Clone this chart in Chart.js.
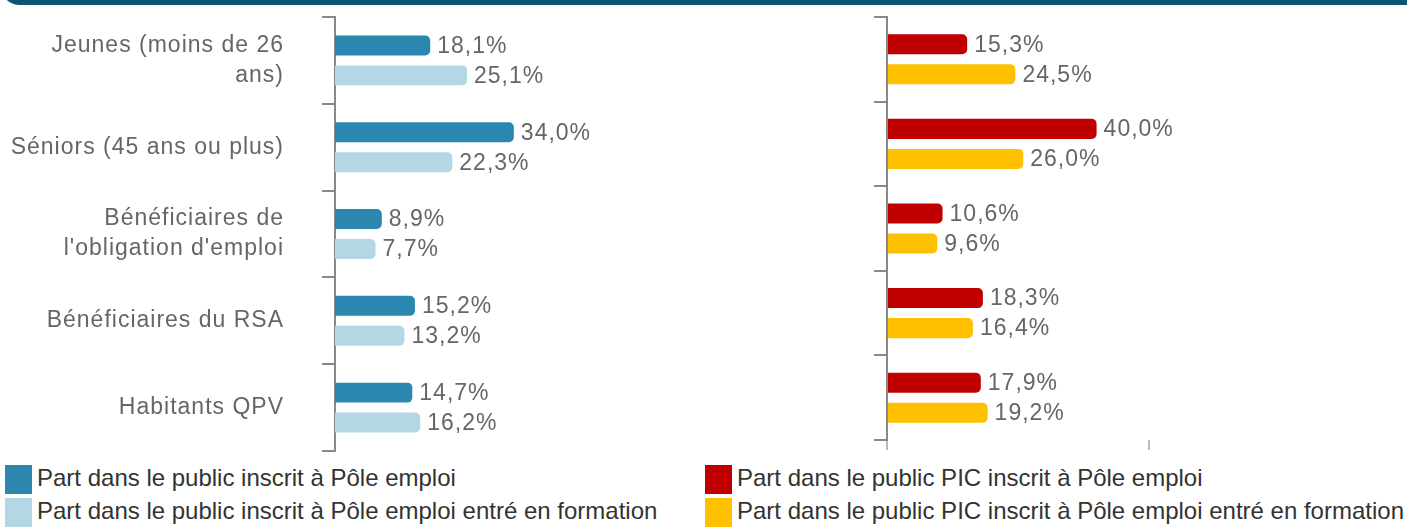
<!DOCTYPE html>
<html>
<head>
<meta charset="utf-8">
<script src="https://cdn.jsdelivr.net/npm/chart.js@4.4.1/dist/chart.umd.min.js"></script>
<style>
  html, body { margin: 0; padding: 0; background: #ffffff; overflow: hidden; }
  body { width: 1407px; height: 527px; position: relative; font-family: "Liberation Sans", Arial, sans-serif; }
  #banner { position: absolute; left: 0; top: -25px; width: 1407px; height: 30px; background: #0c5473; border-bottom-left-radius: 20px; }
  .wrap { position: absolute; top: 0; height: 460px; }
  #wrapL { left: 0; width: 700px; }
  #wrapR { left: 700px; width: 707px; }
  .legend { position: absolute; top: 465px; }
  #legL { left: 5px; }
  #legR { left: 705px; }
  .item { position: relative; height: 33px; }
  .sw { position: absolute; left: 0; top: 0; width: 27px; height: 29px; }
  .lbl { position: absolute; left: 32px; top: 0; line-height: 26px; font-size: 24px; color: #333333; white-space: nowrap; }
</style>
</head>
<body>
<div id="banner"></div>
<div class="wrap" id="wrapL"><canvas id="chartL"></canvas></div>
<div class="wrap" id="wrapR"><canvas id="chartR"></canvas></div>
<div class="legend" id="legL"></div>
<div class="legend" id="legR"></div>
<script>
const categories = [
  ["Jeunes (moins de 26", "ans)"],
  "Séniors (45 ans ou plus)",
  ["Bénéficiaires de", "l'obligation d'emploi"],
  "Bénéficiaires du RSA",
  "Habitants QPV"
];
const seriesLabelsLeft = [
  "Part dans le public inscrit à Pôle emploi",
  "Part dans le public inscrit à Pôle emploi entré en formation"
];
const seriesLabelsRight = [
  "Part dans le public PIC inscrit à Pôle emploi",
  "Part dans le public PIC inscrit à Pôle emploi entré en formation"
];
const pePublic = [18.1, 34.0, 8.9, 15.2, 14.7];
const peFormation = [25.1, 22.3, 7.7, 13.2, 16.2];
const picPublic = [15.3, 40.0, 10.6, 18.3, 17.9];
const picFormation = [24.5, 26.0, 9.6, 16.4, 19.2];
const xTicks = [0, 50];

const colors = {
  pePublic: "#2b87b0",
  peFormation: "#b3d7e5",
  picPublic: "#c00000",
  picFormation: "#ffc000"
};

const FONT = "'Liberation Sans', Arial, sans-serif";

const spacing = {
  id: "spacing",
  beforeLayout(chart) { chart.ctx.letterSpacing = "1px"; },
  beforeDraw(chart) { chart.ctx.letterSpacing = "1px"; }
};

const valueLabels = {
  id: "valueLabels",
  afterDatasetsDraw(chart) {
    const ctx = chart.ctx;
    ctx.save();
    ctx.letterSpacing = "1px";
    ctx.font = "23px " + FONT;
    ctx.fillStyle = "#666666";
    ctx.textAlign = "left";
    ctx.textBaseline = "middle";
    chart.data.datasets.forEach((ds, di) => {
      const meta = chart.getDatasetMeta(di);
      meta.data.forEach((bar, i) => {
        const txt = ds.data[i].toFixed(1).replace(".", ",") + "%";
        ctx.fillText(txt, bar.x + 7, bar.y + 1);
      });
    });
    ctx.restore();
  }
};

function makeChart(id, series, labels, opts) {
  return new Chart(document.getElementById(id), {
    type: "bar",
    data: {
      labels: categories,
      datasets: series.map((s, k) => ({
        label: labels[k],
        data: s.data,
        backgroundColor: s.color,
        categoryPercentage: opts.catPct,
        barPercentage: 0.667,
        borderRadius: 5,
        borderSkipped: "start"
      }))
    },
    options: {
      indexAxis: "y",
      responsive: true,
      maintainAspectRatio: false,
      animation: false,
      events: [],
      layout: { padding: { top: 17, right: opts.padRight, bottom: opts.padBottom, left: 0 } },
      plugins: { legend: { display: false }, tooltip: { enabled: false } },
      scales: {
        x: {
          display: opts.showX,
          min: 0, max: 50,
          afterBuildTicks(scale) { scale.ticks = xTicks.map(v => ({ value: v })); },
          afterFit(scale) { scale.height = opts.showX ? 20 : 0; scale.paddingLeft = 0; scale.paddingRight = 0; },
          ticks: { display: false },
          border: { display: false },
          grid: { drawOnChartArea: false, drawTicks: true, tickLength: 10, color: "#bbbbbb", lineWidth: 2 }
        },
        y: {
          afterFit(scale) {
            scale.width = opts.yWidth;
            scale.paddingTop = 0;
            scale.paddingBottom = 0;
          },
          ticks: {
            display: opts.showY,
            autoSkip: false,
            font: { size: 23, family: FONT, lineHeight: 1.3 },
            color: "#666666",
            padding: 38,
            crossAlign: "near"
          },
          border: { display: true, color: "#888888", width: 2 },
          grid: { drawOnChartArea: false, drawTicks: true, tickLength: 13, color: "#888888", lineWidth: 2, offset: true }
        }
      }
    },
    plugins: [spacing, valueLabels]
  });
}

makeChart("chartL",
  [{ data: pePublic, color: colors.pePublic }, { data: peFormation, color: colors.peFormation }],
  seriesLabelsLeft,
  { catPct: 0.69, padRight: 102, padBottom: 9, showX: false, showY: true, yWidth: 335 });

makeChart("chartR",
  [{ data: picPublic, color: colors.picPublic }, { data: picFormation, color: colors.picFormation }],
  seriesLabelsRight,
  { catPct: 0.71, padRight: 258, padBottom: 0, showX: true, showY: false, yWidth: 187 });

function buildLegend(elId, labels, cols) {
  const el = document.getElementById(elId);
  labels.forEach((t, k) => {
    const it = document.createElement("div");
    it.className = "item";
    const sw = document.createElement("span");
    sw.className = "sw";
    sw.style.background = cols[k];
    const lb = document.createElement("span");
    lb.className = "lbl";
    lb.textContent = t;
    it.appendChild(sw);
    it.appendChild(lb);
    el.appendChild(it);
  });
}
buildLegend("legL", seriesLabelsLeft, [colors.pePublic, colors.peFormation]);
buildLegend("legR", seriesLabelsRight, [colors.picPublic, colors.picFormation]);
</script>
</body>
</html>
